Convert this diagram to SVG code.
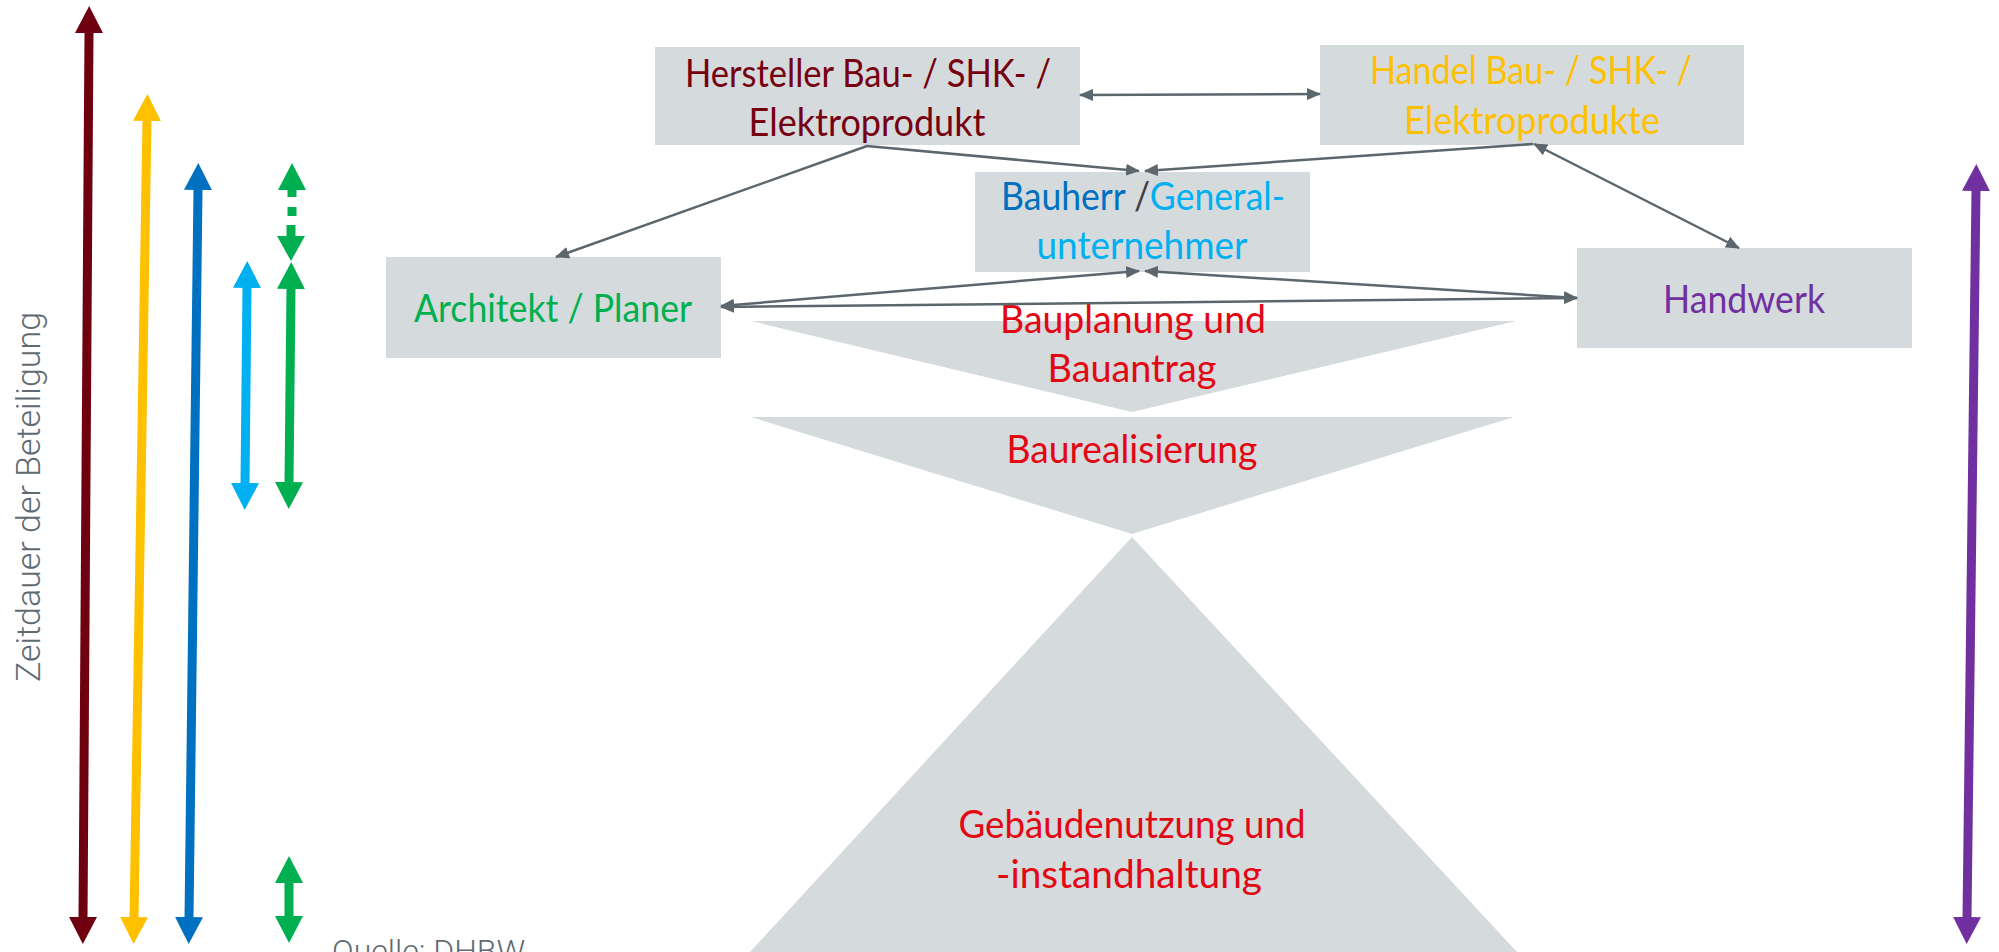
<svg xmlns="http://www.w3.org/2000/svg" width="1999" height="952" viewBox="0 0 1999 952">
<style>
.box{fill:#d5dadd}
.tri{fill:#d5dadd}
.t{font-family:Lato,"Open Sans","Liberation Sans",sans-serif;font-size:39px;text-anchor:middle}
.red{fill:#e30613}
.con{stroke:#5b666d;stroke-width:2.5;fill:none}
.side{font-family:Roboto,"Liberation Sans",sans-serif;font-weight:300;fill:#5f6b73}
.dur{fill:none;stroke-width:9}
</style>
<defs>
<marker id="ga" viewBox="0 -6 14 12" refX="13" refY="0" markerWidth="14" markerHeight="12" markerUnits="userSpaceOnUse" orient="auto-start-reverse"><path d="M0,-6 L14,0 L0,6z" fill="#5b666d"/></marker>
<marker id="mDR" viewBox="0 -14 27 28" refX="1" refY="0" markerWidth="27" markerHeight="28" markerUnits="userSpaceOnUse" orient="auto-start-reverse"><path d="M0,-14 L27,0 L0,14z" fill="#6e0010"/></marker>
<marker id="mY" viewBox="0 -14 27 28" refX="1" refY="0" markerWidth="27" markerHeight="28" markerUnits="userSpaceOnUse" orient="auto-start-reverse"><path d="M0,-14 L27,0 L0,14z" fill="#ffc000"/></marker>
<marker id="mB" viewBox="0 -14 27 28" refX="1" refY="0" markerWidth="27" markerHeight="28" markerUnits="userSpaceOnUse" orient="auto-start-reverse"><path d="M0,-14 L27,0 L0,14z" fill="#0070c0"/></marker>
<marker id="mLB" viewBox="0 -14 27 28" refX="1" refY="0" markerWidth="27" markerHeight="28" markerUnits="userSpaceOnUse" orient="auto-start-reverse"><path d="M0,-14 L27,0 L0,14z" fill="#00b0f0"/></marker>
<marker id="mG" viewBox="0 -14 27 28" refX="1" refY="0" markerWidth="27" markerHeight="28" markerUnits="userSpaceOnUse" orient="auto-start-reverse"><path d="M0,-14 L27,0 L0,14z" fill="#00b050"/></marker>
<marker id="mP" viewBox="0 -14 27 28" refX="1" refY="0" markerWidth="27" markerHeight="28" markerUnits="userSpaceOnUse" orient="auto-start-reverse"><path d="M0,-14 L27,0 L0,14z" fill="#7030a0"/></marker>
</defs>
<rect width="1999" height="952" fill="#ffffff"/>

<g id="phase-bauplanung">
<polygon class="tri" points="751,321 1516,321 1132,412"/>
<text class="t red" x="1133" y="333" textLength="266" lengthAdjust="spacingAndGlyphs">Bauplanung und</text>
<text class="t red" x="1132" y="382" textLength="169" lengthAdjust="spacingAndGlyphs">Bauantrag</text>
</g>
<g id="phase-baurealisierung">
<polygon class="tri" points="751,417 1514,417 1132,534"/>
<text class="t red" x="1132" y="463" textLength="251" lengthAdjust="spacingAndGlyphs">Baurealisierung</text>
</g>
<g id="phase-gebaeudenutzung">
<polygon class="tri" points="1132,537 1517,952 750,952"/>
<text class="t red" x="1132" y="838" textLength="347" lengthAdjust="spacingAndGlyphs">Gebäudenutzung und</text>
<text class="t red" x="1129" y="888" textLength="266" lengthAdjust="spacingAndGlyphs">-instandhaltung</text>
</g>

<g id="node-hersteller">
<rect class="box" x="655" y="47" width="425" height="98"/>
<text class="t" fill="#76000f" x="868" y="87" textLength="366" lengthAdjust="spacingAndGlyphs">Hersteller Bau- / SHK- /</text>
<text class="t" fill="#76000f" x="867" y="136" textLength="237" lengthAdjust="spacingAndGlyphs">Elektroprodukt</text>
</g>
<g id="node-handel">
<rect class="box" x="1320" y="45" width="424" height="100"/>
<text class="t" fill="#ffc000" x="1531" y="84" textLength="322" lengthAdjust="spacingAndGlyphs">Handel Bau- / SHK- /</text>
<text class="t" fill="#ffc000" x="1532" y="134" textLength="256" lengthAdjust="spacingAndGlyphs">Elektroprodukte</text>
</g>
<g id="node-bauherr">
<rect class="box" x="975" y="172" width="335" height="100"/>
<text class="t" x="1143" y="210" textLength="284" lengthAdjust="spacingAndGlyphs"><tspan fill="#0070c0">Bauherr </tspan><tspan fill="#404040">/</tspan><tspan fill="#00b0f0">General-</tspan></text>
<text class="t" fill="#00b0f0" x="1142" y="259" textLength="211" lengthAdjust="spacingAndGlyphs">unternehmer</text>
</g>
<g id="node-architekt">
<rect class="box" x="386" y="257" width="335" height="101"/>
<text class="t" fill="#00b050" x="553" y="322" textLength="278" lengthAdjust="spacingAndGlyphs">Architekt / Planer</text>
</g>
<g id="node-handwerk">
<rect class="box" x="1577" y="248" width="335" height="100"/>
<text class="t" fill="#7030a0" x="1744" y="313" textLength="162" lengthAdjust="spacingAndGlyphs">Handwerk</text>
</g>

<g id="connectors">
<line class="con" x1="1080" y1="95" x2="1320" y2="94" marker-start="url(#ga)" marker-end="url(#ga)"/>
<line class="con" x1="867" y1="146" x2="556" y2="257" marker-end="url(#ga)"/>
<line class="con" x1="867" y1="146" x2="1139" y2="171" marker-end="url(#ga)"/>
<line class="con" x1="1533" y1="144" x2="1145" y2="171" marker-end="url(#ga)"/>
<line class="con" x1="1534" y1="144" x2="1739" y2="248" marker-start="url(#ga)" marker-end="url(#ga)"/>
<line class="con" x1="721" y1="306" x2="1139" y2="271" marker-start="url(#ga)" marker-end="url(#ga)"/>
<line class="con" x1="1145" y1="271" x2="1577" y2="298" marker-start="url(#ga)" marker-end="url(#ga)"/>
<line class="con" x1="721" y1="307" x2="1577" y2="298" marker-start="url(#ga)" marker-end="url(#ga)"/>
</g>

<g id="duration-arrows">
<line class="dur" stroke="#6e0010" x1="89" y1="32" x2="83" y2="918" marker-start="url(#mDR)" marker-end="url(#mDR)"/>
<line class="dur" stroke="#ffc000" x1="147" y1="120" x2="134" y2="918" marker-start="url(#mY)" marker-end="url(#mY)"/>
<line class="dur" stroke="#0070c0" x1="198" y1="189" x2="189" y2="918" marker-start="url(#mB)" marker-end="url(#mB)"/>
<line class="dur" stroke="#00b0f0" stroke-width="8" x1="247" y1="287" x2="245" y2="484" marker-start="url(#mLB)" marker-end="url(#mLB)"/>
<line class="dur" stroke="#00b050" x1="291" y1="288" x2="289" y2="483" marker-start="url(#mG)" marker-end="url(#mG)"/>
<polygon fill="#00b050" points="292,163 306,190 278,190"/>
<polygon fill="#00b050" points="291,261 305,236 277,236"/>
<line class="dur" stroke="#00b050" x1="292" y1="189" x2="292" y2="197"/>
<line class="dur" stroke="#00b050" x1="292" y1="207" x2="292" y2="216"/>
<line class="dur" stroke="#00b050" x1="291" y1="225" x2="291" y2="237"/>
<line class="dur" stroke="#00b050" x1="289" y1="882" x2="289" y2="917" marker-start="url(#mG)" marker-end="url(#mG)"/>
<line class="dur" stroke="#7030a0" x1="1976" y1="190" x2="1967" y2="918" marker-start="url(#mP)" marker-end="url(#mP)"/>
</g>

<text class="side" font-size="33" transform="translate(40,497) rotate(-90)" text-anchor="middle" textLength="370" lengthAdjust="spacingAndGlyphs">Zeitdauer der Beteiligung</text>
<text class="side" font-size="32" x="332" y="962">Quelle: DHBW</text>
</svg>
